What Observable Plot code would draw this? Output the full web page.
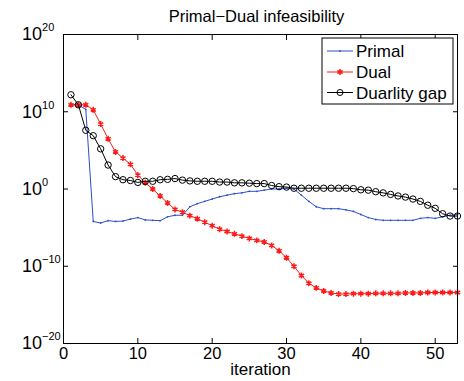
<!DOCTYPE html>
<html><head><meta charset="utf-8">
<script src="https://cdn.jsdelivr.net/npm/d3@7"></script>
<script src="https://cdn.jsdelivr.net/npm/@observablehq/plot@0.6"></script>
<style>
body{margin:0;background:#fff}
svg{font-family:"Liberation Sans",Arial,Helvetica,sans-serif}
</style>
</head><body><div id="chart"></div>
<script>
// iteration numbers
const iterations = [1,2,3,4,5,6,7,8,9,10,11,12,13,14,15,16,17,18,19,20,21,22,23,24,25,26,27,28,29,30,31,32,33,34,35,36,37,38,39,40,41,42,43,44,45,46,47,48,49,50,51,52,53];
// values stored as log10 exponents
const primalExp = [10.9,10.9,10.3,-4.2,-4.4,-4.1,-4.2,-4.15,-3.9,-3.7,
  -4.0,-4.05,-4.1,-3.6,-3.4,-3.4,-2.3,-1.9,-1.6,-1.3,
  -1.0,-0.8,-0.6,-0.5,-0.3,-0.3,-0.15,0,0,0.1,
  0.0,-0.8,-1.6,-2.3,-2.55,-2.55,-2.55,-2.7,-2.9,-3.3,
  -3.7,-3.95,-4.05,-4.05,-4.05,-4.05,-4.05,-3.8,-3.7,-3.8,
  -3.6,-3.4,-3.3];
const dualExp = [10.9,10.9,10.9,10.25,8.4,6.5,4.8,4.0,3.2,1.8,
  0.8,0.0,-0.9,-1.8,-2.65,-3.0,-3.45,-3.85,-4.3,-4.75,
  -5.2,-5.5,-5.8,-6.1,-6.4,-6.65,-6.85,-7.3,-8.0,-8.9,
  -10.0,-11.2,-12.2,-12.8,-13.2,-13.45,-13.6,-13.6,-13.55,-13.55,
  -13.55,-13.5,-13.5,-13.5,-13.5,-13.45,-13.45,-13.45,-13.4,-13.4,
  -13.4,-13.4,-13.4];
const gapExp = [12.2,10.9,7.6,6.9,5.2,3.1,1.6,1.2,1.1,0.85,
  1.0,1.0,1.2,1.25,1.35,1.15,1.05,1.0,1.0,1.0,
  0.9,0.9,0.8,0.8,0.75,0.7,0.7,0.45,0.3,0.25,
  0.1,0.1,0.1,0.1,0.1,0.1,0.1,0.1,0.05,-0.1,
  -0.15,-0.35,-0.5,-0.7,-0.9,-1.05,-1.3,-1.6,-2.1,-2.5,
  -3.2,-3.5,-3.5];
const seriesNames = ["Primal","Dual","Duarlity gap"];
const xTicks = [0,10,20,30,40,50];
const yTicks = [1e-20,1e-10,1,1e10,1e20];
const titleText = "Primal\u2212Dual infeasibility";
const xLabel = "iteration";

const blue = "#2b4fc8", red = "#ff1a1a", black = "#000";

const rows = iterations.map((it,i)=>({it, primal:10**primalExp[i], dual:10**dualExp[i], gap:10**gapExp[i]}));

const plot = Plot.plot({
  width:464, height:381,
  marginLeft:63, marginRight:7, marginTop:34, marginBottom:38,
  x:{domain:[0,53]},
  y:{type:"log", domain:[1e-20,1e20]},
  style:{fontFamily:"Liberation Sans, Arial, Helvetica, sans-serif", fontSize:"16px", background:"white", color:"black", overflow:"visible"},
  marks:[
    Plot.line(rows,{x:"it", y:"primal", stroke:blue, strokeWidth:1}),
    Plot.dot(rows,{x:"it", y:"primal", r:0.9, fill:blue, stroke:null}),
    Plot.line(rows,{x:"it", y:"dual", stroke:red, strokeWidth:1}),
    Plot.dot(rows,{x:"it", y:"dual", symbol:"asterisk", r:2.8, stroke:red, strokeWidth:1.5}),
    Plot.line(rows,{x:"it", y:"gap", stroke:black, strokeWidth:1}),
    Plot.dot(rows,{x:"it", y:"gap", r:3.2, stroke:black, fill:"none", strokeWidth:1}),
    Plot.frame({stroke:"#000", strokeWidth:1}),
    Plot.axisX({anchor:"bottom", ticks:xTicks, tickSize:-5, text:null, label:null}),
    Plot.axisX({anchor:"top", ticks:xTicks, tickSize:-5, text:null, label:null}),
    Plot.axisY({anchor:"left", ticks:yTicks, tickSize:-5, text:null, label:null}),
    Plot.axisY({anchor:"right", ticks:yTicks, tickSize:-5, text:null, label:null}),
    Plot.axisX({anchor:"bottom", ticks:xTicks, tickSize:0, tickPadding:4, label:null, fontSize:16.5}),
    Plot.axisY({anchor:"left", ticks:yTicks, tickSize:0, tickPadding:41.5, textAnchor:"start", label:null, fontSize:18,
      tickFormat:d=>String(Math.round(Math.log10(d)))}),
    Plot.text([xLabel],{frameAnchor:"bottom", lineAnchor:"middle", dy:26, fontSize:17, fill:"black"}),
    Plot.text([titleText],{frameAnchor:"top", lineAnchor:"middle", dy:-18, dx:-4, fontSize:16.5, fill:"black"})
  ]
});

// superscript exponents on the y tick labels
d3.select(plot).selectAll('g[aria-label="y-axis tick label"] text').each(function(){
  const t = d3.select(this);
  const raw = t.text();
  if (!raw) { t.remove(); return; }
  const e = raw.replace("-", "\u2212").replace("\u2212\u2212","\u2212");
  t.text("10");
  t.append("tspan").attr("dy", -9).attr("font-size", "11px").text(e);
});
d3.select(plot).selectAll('g[aria-label$="tick label"] text').filter(function(){return !d3.select(this).text();}).remove();

// legend
const lg = d3.select(plot).append("g").attr("class","legend").attr("text-anchor","start");
lg.append("rect").attr("x",322).attr("y",38).attr("width",131).attr("height",66)
  .attr("fill","white").attr("stroke","black").attr("stroke-width",1);
const legendRows = [
  {name:seriesNames[0], color:blue, y:51},
  {name:seriesNames[1], color:red, y:72},
  {name:seriesNames[2], color:black, y:92.5}
];
legendRows.forEach((r,i)=>{
  lg.append("line").attr("x1",327).attr("x2",353).attr("y1",r.y).attr("y2",r.y).attr("stroke",r.color).attr("stroke-width",1);
  if(i===0) lg.append("circle").attr("cx",340).attr("cy",r.y).attr("r",0.9).attr("fill",r.color);
  if(i===1) lg.append("path").attr("d",d3.symbol(d3.symbolAsterisk, 25)()).attr("transform",`translate(340,${r.y})`).attr("stroke",r.color).attr("stroke-width",1.5).attr("fill","none");
  if(i===2) lg.append("circle").attr("cx",340).attr("cy",r.y).attr("r",3).attr("fill","none").attr("stroke",r.color);
  lg.append("text").attr("x",356).attr("y",r.y).attr("dy","0.36em").attr("font-size",17).attr("fill","black").attr("text-anchor","start").text(r.name);
});

document.getElementById("chart").appendChild(plot);
</script>
</body></html>
